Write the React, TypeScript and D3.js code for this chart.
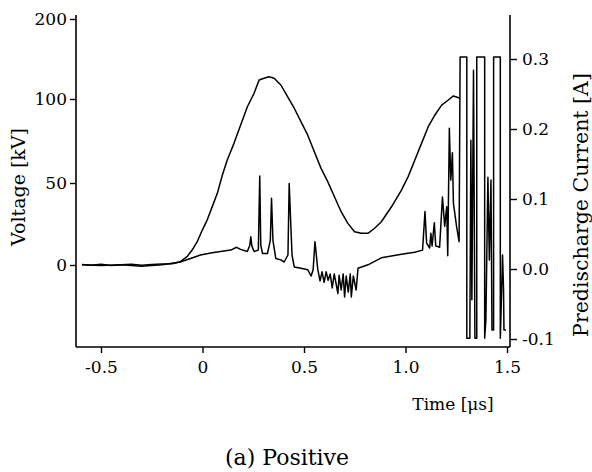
import React, { useEffect, useRef } from 'react';
import * as d3 from 'd3';

// voltage trace [us, kV]
const voltTime = [
  -0.594, -0.55, -0.5, -0.45, -0.4, -0.35, -0.3, -0.25, -0.2, -0.15, -0.109,
  -0.076, -0.051, -0.026, -0.001, 0.023, 0.048, 0.073, 0.098, 0.122, 0.155,
  0.188, 0.221, 0.254, 0.279, 0.303, 0.328, 0.353, 0.386, 0.419, 0.452, 0.485,
  0.518, 0.551, 0.584, 0.617, 0.65, 0.683, 0.716, 0.749, 0.782, 0.815, 0.848,
  0.881, 0.931, 0.98, 1.013, 1.046, 1.079, 1.112, 1.145, 1.178, 1.211, 1.236, 1.269,
];
const voltKV = [
  0.3, -0.2, 0.4, -0.3, 0.2, 0.5, -0.2, 0.3, 0.6, 0.8, 2.0,
  5.1, 9.1, 14.2, 21.3, 27.4, 35.6, 43.7, 54.8, 63.7, 73.6,
  84.5, 95.4, 107.1, 123.8, 125.9, 127.9, 125.9, 117.5, 102.9, 94.5, 86.5,
  78.6, 68.6, 58.7, 50.8, 41.6, 32.5, 25.4, 20.3, 19.3, 19.3, 22.4,
  26.4, 35.5, 45.7, 53.8, 63.7, 73.6, 83.5, 90.5, 96.4, 99.4, 103.8, 100.9,
];

// predischarge current trace [us, A]
const currTime = [
  -0.594, -0.5, -0.4, -0.3, -0.2, -0.109, -0.059, -0.01, 0.04, 0.089, 0.139,
  0.168, 0.188, 0.221, 0.233, 0.238, 0.243, 0.254, 0.275, 0.282, 0.287, 0.296,
  0.32, 0.334, 0.34, 0.347, 0.361, 0.386, 0.402, 0.421, 0.427, 0.436, 0.441,
  0.452, 0.485, 0.518, 0.535, 0.545, 0.554, 0.568, 0.579, 0.589, 0.599, 0.609,
  0.619, 0.629, 0.639, 0.649, 0.667, 0.673, 0.683, 0.693, 0.7, 0.708, 0.718,
  0.728, 0.733, 0.743, 0.757, 0.766, 0.815, 0.881, 0.98, 1.045, 1.084, 1.096,
  1.104, 1.119, 1.125, 1.131, 1.142, 1.149, 1.168, 1.182, 1.193, 1.203, 1.208,
  1.216, 1.223, 1.231, 1.236, 1.252, 1.264, 1.269, 1.302, 1.302, 1.317, 1.322,
  1.327, 1.335, 1.342, 1.351, 1.351, 1.39, 1.39, 1.396, 1.406, 1.413, 1.421,
  1.426, 1.434, 1.434, 1.467, 1.467, 1.475, 1.478, 1.483, 1.485, 1.495,
];
const currAmp = [
  0.006, 0.005, 0.006, 0.004, 0.006, 0.01, 0.015, 0.02, 0.023, 0.025, 0.027,
  0.031, 0.028, 0.025, 0.034, 0.046, 0.033, 0.025, 0.027, 0.133, 0.034, 0.022,
  0.022, 0.041, 0.101, 0.041, 0.015, 0.013, 0.01, 0.02, 0.122, 0.056, 0.02,
  0.003, 0.001, -0.001, -0.01, -0.001, 0.039, -0.001, -0.017, -0.004, -0.019, -0.004,
  -0.016, -0.007, -0.027, -0.007, -0.035, -0.009, -0.03, -0.007, -0.04, -0.01, -0.033,
  -0.007, -0.04, -0.01, -0.03, 0.001, 0.006, 0.016, 0.021, 0.024, 0.027, 0.082,
  0.037, 0.03, 0.051, 0.033, 0.066, 0.033, 0.031, 0.103, 0.061, 0.089, 0.019,
  0.201, 0.127, 0.166, 0.094, 0.06, 0.039, 0.303, 0.303, -0.099, -0.099, 0.184,
  -0.044, 0.284, -0.099, -0.099, 0.303, 0.303, -0.099, -0.073, 0.131, 0.013, 0.127,
  -0.087, -0.087, 0.303, 0.303, -0.099, -0.016, 0.02, -0.03, -0.087, -0.087,
];

const timeTicks = [-0.5, 0, 0.5, 1.0, 1.5];
const timeTickLabels = ['-0.5', '0', '0.5', '1.0', '1.5'];
const voltTicks = [0, 50, 100, 200];
const currTicks = [-0.1, 0, 0.1, 0.2, 0.3];
const currTickLabels = ['-0.1', '0.0', '0.1', '0.2', '0.3'];

const W = 592;
const H = 472;
const plot = { left: 76, right: 510, top: 15, bottom: 347 };
const font = "'DejaVu Serif', serif";

const App = () => {
  const ref = useRef<SVGSVGElement>(null);

  useEffect(() => {
    const svg = d3.select(ref.current);
    svg.selectAll('*').remove();

    const x = d3.scaleLinear().domain([-0.5, 1.5]).range([101, 507]);
    // the printed voltage scale is not uniform, so map tick by tick
    const yV = d3.scaleLinear().domain([0, 50, 100, 200]).range([265, 183, 99, 19]);
    const yI = d3.scaleLinear().domain([-0.1, 0.3]).range([339, 59]);

    // frame
    const frame = svg.append('g').attr('stroke', '#000').attr('stroke-width', 1.6);
    frame.append('line').attr('x1', plot.left).attr('x2', plot.left).attr('y1', plot.top).attr('y2', plot.bottom);
    frame.append('line').attr('x1', plot.right).attr('x2', plot.right).attr('y1', plot.top).attr('y2', plot.bottom);
    frame.append('line').attr('x1', plot.left).attr('x2', plot.right).attr('y1', plot.bottom).attr('y2', plot.bottom);

    const styleAxis = (g: any, size: number) => {
      g.select('.domain').remove();
      g.selectAll('line').attr('stroke', '#000').attr('stroke-width', 1.4);
      g.selectAll('text').attr('font-family', font).attr('font-size', size).attr('fill', '#000');
    };

    svg.append('g')
      .attr('transform', `translate(${plot.left},0)`)
      .call(d3.axisLeft(yV).tickValues(voltTicks).tickSize(6).tickPadding(3).tickFormat(d3.format('d')))
      .call((g) => styleAxis(g, 17));

    svg.append('g')
      .attr('transform', `translate(0,${plot.bottom})`)
      .call(d3.axisBottom(x).tickValues(timeTicks).tickSize(6).tickPadding(8)
        .tickFormat((d, i) => timeTickLabels[i]))
      .call((g) => styleAxis(g, 17));

    svg.append('g')
      .attr('transform', `translate(${plot.right},0)`)
      .call(d3.axisRight(yI).tickValues(currTicks).tickSize(7).tickPadding(5)
        .tickFormat((d, i) => currTickLabels[i]))
      .call((g) => styleAxis(g, 17));

    const voltLine = d3.line<number>().x((d, i) => x(voltTime[i])).y((d) => yV(d));
    const currLine = d3.line<number>().x((d, i) => x(currTime[i])).y((d) => yI(d));

    svg.append('path').attr('d', voltLine(voltKV)).attr('fill', 'none')
      .attr('stroke', '#000').attr('stroke-width', 1.5).attr('stroke-linejoin', 'round');
    svg.append('path').attr('d', currLine(currAmp)).attr('fill', 'none')
      .attr('stroke', '#000').attr('stroke-width', 1.5).attr('stroke-linejoin', 'round');

    // titles
    svg.append('text')
      .attr('transform', 'translate(25,187) rotate(-90)')
      .attr('text-anchor', 'middle').attr('font-family', font).attr('font-size', 19)
      .text('Voltage [kV]');
    svg.append('text')
      .attr('transform', 'translate(588,205) rotate(-90)')
      .attr('text-anchor', 'middle').attr('font-family', font).attr('font-size', 20.5)
      .text('Predischarge Current [A]');
    svg.append('text')
      .attr('x', 453).attr('y', 410)
      .attr('text-anchor', 'middle').attr('font-family', font).attr('font-size', 17)
      .text('Time [\u03bcs]');
    svg.append('text')
      .attr('x', 287).attr('y', 465)
      .attr('text-anchor', 'middle').attr('font-family', font).attr('font-size', 22)
      .text('(a) Positive');
  }, []);

  return (
    <svg ref={ref} width={W} height={H}
      style={{ position: 'absolute', left: 0, top: 0, background: '#fff' }} />
  );
};

export default App;
